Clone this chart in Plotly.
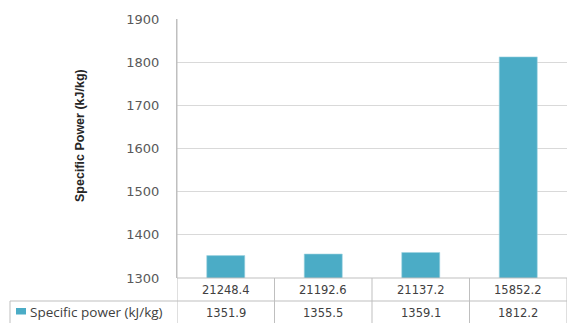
import plotly.graph_objects as go

# Category labels shown in the first row of the data table
categories = ["21248.4", "21192.6", "21137.2", "15852.2"]
# Specific power values (kJ/kg)
specific_power = [1351.9, 1355.5, 1359.1, 1812.2]
series_name = "Specific power (kJ/kg)"
axis_title = "Specific Power (kJ/kg)"
y_ticks = [1300, 1400, 1500, 1600, 1700, 1800, 1900]

W, H = 569, 323
L, R, T, B = 177, 2, 19, 45
plot_w = W - L - R
plot_h = H - T - B

BAR = "#4BACC6"
GRID = "#d9d9d9"
LINE = "#bfbfbf"
FONT = "DejaVu Sans"


def px_x(px):
    return (px - L) / plot_w


def px_y(py):
    return (H - B - py) / plot_h


fig = go.Figure()
fig.add_trace(go.Bar(
    x=categories, y=specific_power, name=series_name,
    marker=dict(color=BAR, line=dict(color="#9fd3e0", width=0.6)),
    showlegend=False,
))

shapes = []
# horizontal table lines
row1_bottom = 301
shapes.append(dict(type="line", xref="paper", yref="paper",
                   x0=0, x1=px_x(567), y0=0, y1=0,
                   line=dict(color=LINE, width=1)))
shapes.append(dict(type="line", xref="paper", yref="paper",
                   x0=px_x(10), x1=px_x(567), y0=px_y(row1_bottom), y1=px_y(row1_bottom),
                   line=dict(color=LINE, width=1)))
# left border of the legend cell
shapes.append(dict(type="line", xref="paper", yref="paper",
                   x0=px_x(10), x1=px_x(10), y0=px_y(row1_bottom), y1=px_y(330),
                   line=dict(color=LINE, width=1)))
# column separators at category boundaries
for i in range(len(categories) + 1):
    xb = i - 0.5
    shapes.append(dict(type="line", xref="x", yref="paper",
                       x0=xb, x1=xb, y0=0 if i else 1, y1=px_y(330),
                       line=dict(color=LINE, width=1)))
# legend key
shapes.append(dict(type="rect", xref="paper", yref="paper",
                   x0=px_x(16), x1=px_x(26), y0=px_y(308), y1=px_y(314.5),
                   fillcolor=BAR, line=dict(width=0)))

cell_font = dict(family=FONT, size=11.5, color="#404040")
annotations = []
for i, (c, v) in enumerate(zip(categories, specific_power)):
    annotations.append(dict(x=i, xref="x", y=px_y(290), yref="paper",
                            xanchor="center", yanchor="middle",
                            text=c, showarrow=False, font=cell_font))
    annotations.append(dict(x=i, xref="x", y=px_y(313), yref="paper",
                            xanchor="center", yanchor="middle",
                            text=f"{v:.1f}", showarrow=False, font=cell_font))
annotations.append(dict(x=px_x(28), xref="paper", y=px_y(311.5), yref="paper",
                        text=series_name, showarrow=False,
                        xanchor="left", yanchor="middle",
                        font=dict(family="Open Sans", size=13.5, color="#404040")))
annotations.append(dict(x=px_x(80), xref="paper", y=px_y(136), yref="paper",
                        xanchor="center", yanchor="middle",
                        text=f"<b>{axis_title}</b>", showarrow=False, textangle=-90,
                        font=dict(family="Liberation Sans Narrow, Liberation Sans", size=12.5,
                                  color="#262626")))

fig.update_layout(
    width=W, height=H,
    margin=dict(l=L, r=R, t=T, b=B),
    plot_bgcolor="white", paper_bgcolor="white",
    bargap=0.61,
    shapes=shapes, annotations=annotations,
    xaxis=dict(showticklabels=False, showgrid=False, zeroline=False,
               showline=False, ticks="", range=[-0.5, 3.5]),
    yaxis=dict(range=[1300, 1900], tickvals=y_ticks, showgrid=True,
               gridcolor=GRID, gridwidth=1, zeroline=False,
               showline=True, linecolor=LINE, ticks="",
               ticklabelstandoff=14,
               tickfont=dict(family=FONT, size=13, color="#595959")),
)

fig.write_html("out.html")
